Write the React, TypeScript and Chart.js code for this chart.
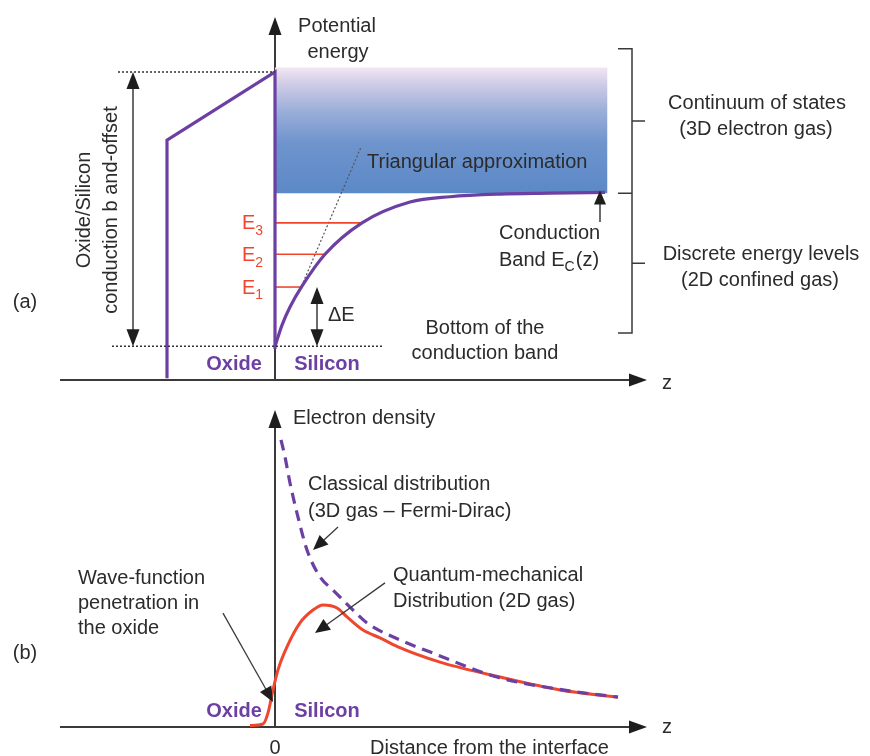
import React, { useEffect, useRef } from "react";
import { Chart, registerables } from "chart.js";
Chart.register(...registerables);

// ---------- Panel (a): potential energy vs distance z ----------
const oxideZ = [-2.16, -2.16, 0, 0];
const oxideE = [-0.36, 2.33, 3.1, -0.03];
const bandZ = [0, 0.14, 0.3, 0.54, 1.0, 1.74, 2.7, 3.5, 4.5, 5.5, 6.6];
const bandE = [0.0, 0.24, 0.445, 0.68, 1.04, 1.395, 1.63, 1.69, 1.72, 1.73, 1.74];
const levelSubs = ["1", "2", "3"];
const levelE = [0.67, 1.04, 1.395];
const levelEndZ = [0.54, 1.0, 1.74];
const continuumZ = [0, 6.65];
const continuumTop = 3.15;
const continuumBottom = 1.73;
const bandOffset = 3.1;
const triZ = [0.5, 1.72];
const triE = [0.64, 2.25];

// ---------- Panel (b): electron density vs distance z ----------
const classZ = [0.12, 0.2, 0.3, 0.46, 0.64, 0.9, 1.16, 1.5, 1.84, 2.5, 3.16, 4.44, 5.76, 6.86];
const classN = [0.96, 0.903, 0.816, 0.702, 0.592, 0.502, 0.458, 0.401, 0.348, 0.291, 0.247, 0.167, 0.124, 0.1];
const quantZ = [-0.5, -0.24, -0.14, -0.04, 0.06, 0.24, 0.5, 0.76, 0.96, 1.24, 1.44, 1.76, 2.1, 2.46, 3.3, 4.5, 5.7, 6.86];
const quantN = [0.005, 0.01, 0.047, 0.124, 0.191, 0.268, 0.348, 0.391, 0.408, 0.398, 0.368, 0.324, 0.298, 0.268, 0.217, 0.167, 0.124, 0.1];

const FONT = '"Liberation Sans", Arial, Helvetica, sans-serif';
const TXT = "#2b2b2b";
const AXIS = "#3a3a3a";
const PURPLE = "#6c3fa3";
const RED = "#f0462e";

type Label = { t: string; x: number; y: number; align?: CanvasTextAlign; size?: number; color?: string; bold?: boolean; rot?: boolean };

const labelsA: Label[] = [
  { t: "Potential", x: 337, y: 26, align: "center" },
  { t: "energy", x: 338, y: 52, align: "center" },
  { t: "Oxide/Silicon", x: 84, y: 210, align: "center", rot: true },
  { t: "conduction b and-offset", x: 111, y: 210, align: "center", rot: true },
  { t: "(a)", x: 25, y: 302, align: "center" },
  { t: "ΔE", x: 328, y: 315, align: "left" },
  { t: "Oxide", x: 234, y: 364, align: "center", color: PURPLE, bold: true },
  { t: "Silicon", x: 327, y: 364, align: "center", color: PURPLE, bold: true },
  { t: "Triangular approximation", x: 367, y: 162, align: "left" },
  { t: "Conduction", x: 499, y: 233, align: "left" },
  { t: "Bottom of the", x: 485, y: 328, align: "center" },
  { t: "conduction band", x: 485, y: 353, align: "center" },
  { t: "Continuum of states", x: 757, y: 103, align: "center" },
  { t: "(3D electron gas)", x: 756, y: 129, align: "center" },
  { t: "Discrete energy levels", x: 761, y: 254, align: "center" },
  { t: "(2D confined gas)", x: 760, y: 280, align: "center" },
  { t: "z", x: 662, y: 383, align: "left" },
];

const labelsB: Label[] = [
  { t: "Electron density", x: 293, y: 418, align: "left" },
  { t: "Classical distribution", x: 308, y: 484, align: "left" },
  { t: "(3D gas \u2013 Fermi-Dirac)", x: 308, y: 511, align: "left" },
  { t: "Quantum-mechanical", x: 393, y: 575, align: "left" },
  { t: "Distribution (2D gas)", x: 393, y: 601, align: "left" },
  { t: "Wave-function", x: 78, y: 578, align: "left" },
  { t: "penetration in", x: 78, y: 603, align: "left" },
  { t: "the oxide", x: 78, y: 628, align: "left" },
  { t: "(b)", x: 25, y: 653, align: "center" },
  { t: "Oxide", x: 234, y: 711, align: "center", color: PURPLE, bold: true },
  { t: "Silicon", x: 327, y: 711, align: "center", color: PURPLE, bold: true },
  { t: "0", x: 275, y: 748, align: "center" },
  { t: "Distance from the interface", x: 370, y: 748, align: "left" },
  { t: "z", x: 662, y: 727, align: "left" },
];

const zip = (xs: number[], ys: number[]) => xs.map((x, i) => ({ x, y: ys[i] }));

function drawLabel(ctx: CanvasRenderingContext2D, l: Label, dy: number) {
  ctx.save();
  ctx.font = `${l.bold ? "bold " : ""}${l.size ?? 20}px ${FONT}`;
  ctx.fillStyle = l.color ?? TXT;
  ctx.textAlign = l.align ?? "center";
  ctx.textBaseline = "middle";
  if (l.rot) {
    ctx.translate(l.x, l.y - dy);
    ctx.rotate(-Math.PI / 2);
    ctx.fillText(l.t, 0, 0);
  } else {
    ctx.fillText(l.t, l.x, l.y - dy);
  }
  ctx.restore();
}

function head(ctx: CanvasRenderingContext2D, x1: number, y1: number, x2: number, y2: number, len = 16, w = 12) {
  const a = Math.atan2(y2 - y1, x2 - x1);
  ctx.beginPath();
  ctx.moveTo(x2, y2);
  ctx.lineTo(x2 - len * Math.cos(a) + (w / 2) * Math.sin(a), y2 - len * Math.sin(a) - (w / 2) * Math.cos(a));
  ctx.lineTo(x2 - len * Math.cos(a) - (w / 2) * Math.sin(a), y2 - len * Math.sin(a) + (w / 2) * Math.cos(a));
  ctx.closePath();
  ctx.fill();
}

function arrow(ctx: CanvasRenderingContext2D, x1: number, y1: number, x2: number, y2: number, both = false, len = 16, w = 12, lw = 1.5) {
  ctx.save();
  ctx.strokeStyle = AXIS;
  ctx.fillStyle = "#1e1e1e";
  ctx.lineWidth = lw;
  const a = Math.atan2(y2 - y1, x2 - x1);
  const sx = both ? x1 + (len - 2) * Math.cos(a) : x1;
  const sy = both ? y1 + (len - 2) * Math.sin(a) : y1;
  ctx.beginPath();
  ctx.moveTo(sx, sy);
  ctx.lineTo(x2 - (len - 2) * Math.cos(a), y2 - (len - 2) * Math.sin(a));
  ctx.stroke();
  head(ctx, x1, y1, x2, y2, len, w);
  if (both) head(ctx, x2, y2, x1, y1, len, w);
  ctx.restore();
}

function dotted(ctx: CanvasRenderingContext2D, x1: number, y1: number, x2: number, y2: number) {
  ctx.save();
  ctx.strokeStyle = "#333";
  ctx.lineWidth = 1.5;
  ctx.setLineDash([2, 2]);
  ctx.beginPath();
  ctx.moveTo(x1, y1);
  ctx.lineTo(x2, y2);
  ctx.stroke();
  ctx.restore();
}

function subText(ctx: CanvasRenderingContext2D, base: string, sub: string, after: string, x: number, y: number, color: string, size = 20) {
  ctx.save();
  ctx.fillStyle = color;
  ctx.textAlign = "left";
  ctx.textBaseline = "middle";
  ctx.font = `${size}px ${FONT}`;
  ctx.fillText(base, x, y);
  let cx = x + ctx.measureText(base).width;
  ctx.font = `${Math.round(size * 0.72)}px ${FONT}`;
  ctx.fillText(sub, cx, y + size * 0.38);
  cx += ctx.measureText(sub).width;
  if (after) {
    ctx.font = `${size}px ${FONT}`;
    ctx.fillText(after, cx + 1, y);
  }
  ctx.restore();
}

function axes(chart: any, dy: number) {
  const { ctx, chartArea } = chart;
  const x0 = chart.scales.x.getPixelForValue(0);
  ctx.save();
  ctx.strokeStyle = AXIS;
  ctx.fillStyle = "#1e1e1e";
  ctx.lineWidth = 2;
  ctx.beginPath();
  ctx.moveTo(chartArea.left, chartArea.bottom);
  ctx.lineTo(chartArea.right - 14, chartArea.bottom);
  ctx.moveTo(x0, chartArea.bottom);
  ctx.lineTo(x0, chartArea.top + 14);
  ctx.stroke();
  head(ctx, chartArea.left, chartArea.bottom, chartArea.right - 3, chartArea.bottom, 18, 13);
  head(ctx, x0, chartArea.bottom, x0, chartArea.top, 18, 13);
  ctx.restore();
}

const pluginA = {
  id: "panelA",
  beforeDatasetsDraw(chart: any) {
    axes(chart, 0);
  },
  afterDatasetsDraw(chart: any) {
    const { ctx } = chart;
    const X = (v: number) => chart.scales.x.getPixelForValue(v);
    const Y = (v: number) => chart.scales.y.getPixelForValue(v);
    // band offset dotted reference lines
    dotted(ctx, X(-3.14), Y(bandOffset), X(0), Y(bandOffset));
    dotted(ctx, X(-3.26), Y(0), X(2.16), Y(0));
    // band offset double arrow
    arrow(ctx, X(-2.84), Y(bandOffset), X(-2.84), Y(0), true, 17, 13);
    // ΔE arrow
    arrow(ctx, X(0.84), Y(levelE[0]), X(0.84), Y(0), true, 17, 13);
    // Conduction band arrow
    arrow(ctx, X(6.5), Y(1.405), X(6.5), Y(continuumBottom + 0.03), false, 14, 12);
    // brace
    const bx = X(7.14);
    const top = Y(3.36), bot = Y(0.15), mid = Y(continuumBottom);
    ctx.save();
    ctx.strokeStyle = AXIS;
    ctx.lineWidth = 1.5;
    ctx.beginPath();
    ctx.moveTo(bx - 14, top); ctx.lineTo(bx, top); ctx.lineTo(bx, bot); ctx.lineTo(bx - 14, bot);
    ctx.moveTo(bx - 14, mid); ctx.lineTo(bx, mid);
    const u = Y((3.36 + continuumBottom) / 2), l = Y((continuumBottom + 0.15) / 2);
    ctx.moveTo(bx, u); ctx.lineTo(bx + 13, u);
    ctx.moveTo(bx, l); ctx.lineTo(bx + 13, l);
    ctx.stroke();
    ctx.restore();
    // energy level labels
    levelE.forEach((e, i) => subText(ctx, "E", levelSubs[i], "", 242, Y(e) + 1, RED, 20));
    subText(ctx, "Band E", "C", "(z)", 499, 260, TXT, 20);
    labelsA.forEach((l) => drawLabel(ctx, l, 0));
  },
};

const pluginB = {
  id: "panelB",
  beforeDatasetsDraw(chart: any) {
    axes(chart, 390);
  },
  afterDatasetsDraw(chart: any) {
    const { ctx } = chart;
    const X = (v: number) => chart.scales.x.getPixelForValue(v);
    const Y = (v: number) => chart.scales.y.getPixelForValue(v);
    arrow(ctx, X(1.26), Y(0.669), X(0.76), Y(0.592), false, 15, 13, 1.3);
    arrow(ctx, X(2.2), Y(0.482), X(0.8), Y(0.314), false, 15, 13, 1.3);
    arrow(ctx, X(-1.04), Y(0.381), X(-0.04), Y(0.084), false, 15, 13, 1.3);
    labelsB.forEach((l) => drawLabel(ctx, l, 390));
  },
};

function gradientFill(ctx: any) {
  const chart = ctx.chart;
  const { chartArea, scales } = chart;
  if (!chartArea) return "#6a90cc";
  const y0 = scales.y.getPixelForValue(continuumTop);
  const y1 = scales.y.getPixelForValue(continuumBottom);
  const g = chart.ctx.createLinearGradient(0, y0, 0, y1);
  g.addColorStop(0, "#f2e6f1");
  g.addColorStop(0.15, "#cbc9e6");
  g.addColorStop(0.35, "#9aaed9");
  g.addColorStop(0.6, "#6f94cd");
  g.addColorStop(1, "#5b89c7");
  return g;
}

const common = {
  animation: false as const,
  responsive: false,
  maintainAspectRatio: false,
  events: [] as any[],
  plugins: { legend: { display: false }, tooltip: { enabled: false } },
  elements: { point: { radius: 0 } },
};

export default function App() {
  const refA = useRef<HTMLCanvasElement>(null);
  const refB = useRef<HTMLCanvasElement>(null);
  useEffect(() => {
    const levelSets = levelE.map((e, i) => ({
      data: [{ x: 0, y: e }, { x: levelEndZ[i], y: e }],
      borderColor: RED,
      borderWidth: 1.6,
      pointRadius: 0,
      order: 2,
    }));
    const a = new Chart(refA.current!, {
      type: "line",
      data: {
        datasets: [
          { data: zip(oxideZ, oxideE), borderColor: PURPLE, borderWidth: 3.2, pointRadius: 0, tension: 0, order: 1 },
          { data: zip(bandZ, bandE), borderColor: PURPLE, borderWidth: 3.2, pointRadius: 0, cubicInterpolationMode: "monotone", order: 1 },
          ...levelSets,
          { data: zip(triZ, triE), borderColor: "#555", borderWidth: 1.2, borderDash: [2, 2], pointRadius: 0, order: 3 },
          {
            data: continuumZ.map((z) => ({ x: z, y: continuumTop })),
            borderWidth: 0,
            borderColor: "rgba(0,0,0,0)",
            backgroundColor: gradientFill,
            fill: { value: continuumBottom },
            pointRadius: 0,
            order: 10,
          },
        ] as any,
      },
      options: {
        ...common,
        layout: { padding: { left: 60, right: 220, top: 17, bottom: 10 } },
        scales: {
          x: { type: "linear", min: -4.3, max: 7.5, display: false },
          y: { type: "linear", min: -0.38, max: 3.72, display: false },
        },
      } as any,
      plugins: [pluginA],
    });
    const b = new Chart(refB.current!, {
      type: "line",
      data: {
        datasets: [
          { data: zip(classZ, classN), borderColor: PURPLE, borderWidth: 3.2, borderDash: [11, 7], pointRadius: 0, cubicInterpolationMode: "monotone", order: 1 },
          { data: zip(quantZ, quantN), borderColor: RED, borderWidth: 3, pointRadius: 0, cubicInterpolationMode: "monotone", order: 2 },
        ] as any,
      },
      options: {
        ...common,
        layout: { padding: { left: 60, right: 220, top: 20, bottom: 29 } },
        scales: {
          x: { type: "linear", min: -4.3, max: 7.5, display: false },
          y: { type: "linear", min: 0, max: 1.06, display: false },
        },
      } as any,
      plugins: [pluginB],
    });
    return () => {
      a.destroy();
      b.destroy();
    };
  }, []);
  return (
    <div style={{ position: "absolute", left: 0, top: 0, width: 870, height: 756, background: "#fff" }}>
      <canvas ref={refA} width={870} height={390} style={{ position: "absolute", left: 0, top: 0, width: 870, height: 390 }} />
      <canvas ref={refB} width={870} height={366} style={{ position: "absolute", left: 0, top: 390, width: 870, height: 366 }} />
    </div>
  );
}
